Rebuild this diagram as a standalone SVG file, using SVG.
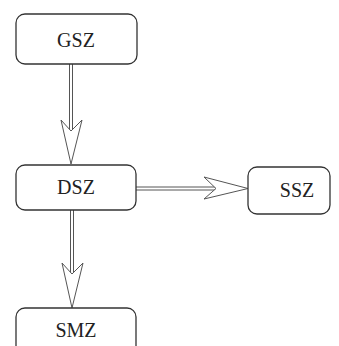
<svg xmlns="http://www.w3.org/2000/svg" width="339" height="346" viewBox="0 0 339 346">
<style>
.box{fill:#fff;stroke:#333;stroke-width:1.3}
.lbl{font-family:"Liberation Serif","Times New Roman",serif;font-size:20px;fill:#222;text-anchor:middle}
.ln{fill:none;stroke:#555;stroke-width:1}
.ah{fill:#fff;stroke:#555;stroke-width:1;stroke-linejoin:miter}
</style>
<rect width="339" height="346" fill="#fff"/>
<g id="connectors">
<path class="ln" d="M69.5,64 V131 M72.5,64 V131"/>
<path class="ah" d="M61,120 L71,131 L82,120 L71,164 Z"/>
<path class="ln" d="M136,187 H216 M136,190 H216"/>
<path class="ah" d="M204,177 L216,188.5 L204,199 L248,188.5 Z"/>
<path class="ln" d="M70.5,210 V274 M73.5,210 V274"/>
<path class="ah" d="M62,263 L72,274 L83,263 L72,308 Z"/>
</g>
<g id="GSZ"><rect class="box" x="16" y="14" width="121" height="50" rx="9"/><text class="lbl" x="76" y="47">GSZ</text></g>
<g id="DSZ"><rect class="box" x="16" y="165" width="120" height="45" rx="9"/><text class="lbl" x="76" y="194">DSZ</text></g>
<g id="SSZ"><rect class="box" x="248" y="167" width="82" height="47" rx="9"/><text class="lbl" x="297" y="197">SSZ</text></g>
<g id="SMZ"><rect class="box" x="16" y="308" width="120" height="48" rx="9"/><text class="lbl" x="76" y="337">SMZ</text></g>
</svg>
